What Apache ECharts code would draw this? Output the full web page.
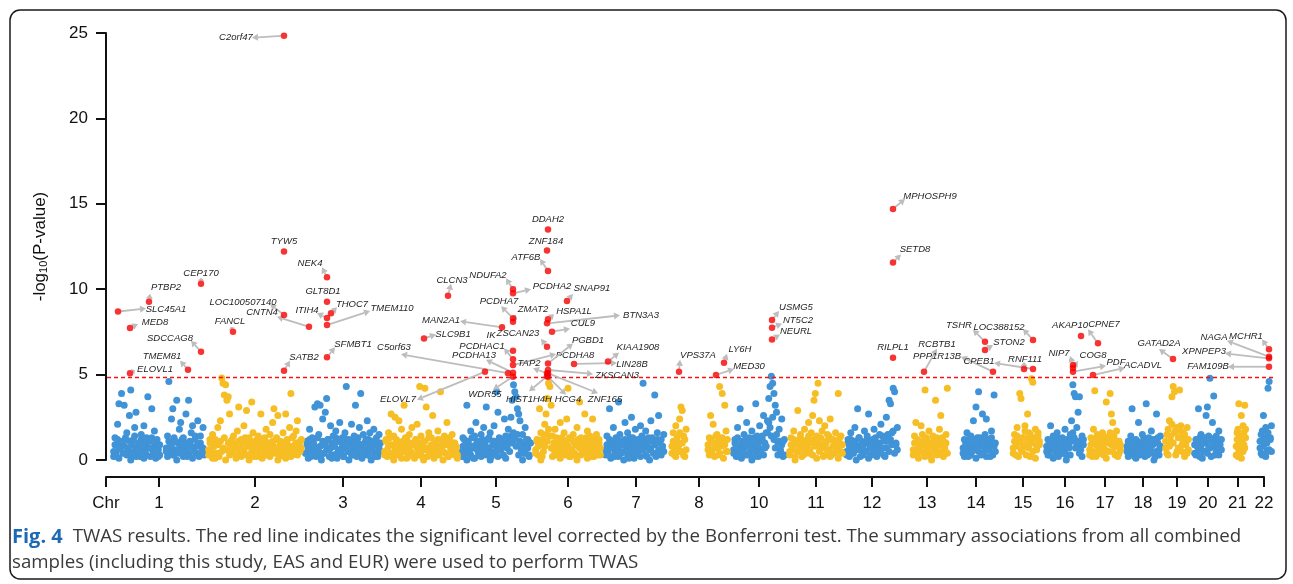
<!DOCTYPE html>
<html>
<head>
<meta charset="utf-8">
<title>TWAS results</title>
<script src="https://cdn.jsdelivr.net/npm/echarts@6/dist/echarts.min.js"></script>
<style>html,body{margin:0;padding:0;background:#fff}</style>
</head>
<body>
<div id="main" style="width:1293px;height:584px"></div>
<script>
// chromosomes (no chr9 in the figure), spans on the cumulative genome axis
var chrLabels = ['1','2','3','4','5','6','7','8','10','11','12','13','14','15','16','17','18','19','20','21','22'];
var chrStart = [7, 102, 199, 278, 355, 429, 499, 564, 627, 683, 740, 800, 850, 900, 940, 983, 1019, 1059, 1088, 1123, 1150];
var chrEnd   = [99, 196, 275, 352, 425, 495, 561, 622, 679, 737, 792, 842, 890, 934, 978, 1015, 1055, 1083, 1116, 1140, 1166];

// non-significant genes, -log10(P), in order along each chromosome (null = no genes)
var bg1 = [0.5,1.3,0.2,2.1,3.3,0.8,3.9,1.1,3.2,0.4,1.6,0.7,2.6,4.1,0.3,1.2,1.9,2.8,0.6,1.0,0.2,1.5,0.9,2.0,0.4,1.3,3.7,0.7,1.1,3.0,0.3,1.7,0.6,1.2,0.2,0.9,null,null,null,null,0.5,1.4,4.6,0.8,2.4,3.0,0.3,1.1,3.5,0.6,1.8,2.2,0.4,1.3,0.9,2.7,0.2,3.5,1.0,1.6,2.0,0.5,1.2,0.8,2.3,0.3,1.4,0.7,1.9,0.4];
var bg2 = [0.6,1.2,0.3,1.5,0.8,0.1,1.0,1.9,0.4,2.3,4.8,4.5,3.8,4.4,3.5,3.7,2.7,1.1,0.5,1.4,0.9,0.2,1.7,3.1,0.7,1.2,0.4,2.0,1.0,2.9,0.3,1.3,0.8,3.4,1.6,0.5,1.1,0.2,1.4,0.9,2.7,0.6,1.2,0.3,1.8,1.0,0.4,1.5,0.7,2.2,3.0,0.5,1.3,2.6,0.2,1.1,0.8,1.6,0.4,2.7,1.2,0.6,1.9,3.9,0.3,1.4,0.9,1.7,2.3,0.5,1.1,0.7];
var bg3 = [0.4,1.1,0.7,1.8,0.2,1.3,0.9,3.1,0.5,3.3,1.5,3.2,0.3,2.4,1.0,2.8,3.6,1.2,0.6,2.0,0.1,1.4,0.8,1.7,0.4,1.1,2.2,0.6,1.3,0.2,1.6,4.3,0.9,1.2,0.5,2.1,0.3,1.4,3.2,0.7,1.0,1.9,3.9,0.4,1.5,0.8,1.2,2.3,0.3,1.6,0.6,1.1,1.8,0.2,1.3,0.9,1.5,0.5];
var bg4 = [0.3,1.2,0.6,1.6,0.9,2.7,0.2,1.4,2.5,0.7,1.1,2.3,0.4,1.8,0.8,3.2,1.3,0.1,1.0,1.5,0.5,1.9,0.9,0.3,1.2,2.1,0.6,4.3,1.4,0.2,1.1,4.2,3.1,0.7,1.6,0.4,1.3,2.6,0.8,1.0,0.3,1.7,0.6,4.0,1.2,0.5,1.4,0.9,2.2,0.2,1.1,0.7,1.5,0.4,1.0,0.6,0.3];
var bg5 = [0.5,1.3,0.2,0.9,3.2,1.1,0.4,1.7,0.8,0.1,1.4,2.2,0.6,1.0,0.3,1.5,0.9,1.9,0.4,3.1,1.2,0.7,1.6,0.2,1.1,2.0,0.5,4.0,2.8,1.3,0.6,1.0,0.3,2.4,1.4,0.8,1.8,1.2,2.5,3.5,4.4,4.0,3.7,3.0,2.7,2.3,0.9,1.5,0.4,1.9,0.7,1.2,0.3,1.0];
var bg6 = [0.4,1.2,0.8,3.0,1.6,0.2,1.0,2.1,2.7,3.6,4.5,4.3,3.2,1.4,0.6,1.8,0.3,1.1,0.7,2.2,1.3,0.5,1.6,0.9,2.4,4.2,0.2,1.2,0.6,1.5,1.0,0.3,1.9,0.8,3.4,1.3,0.5,1.1,2.7,0.4,1.7,0.9,1.4,0.2,2.4,1.0,0.6,1.5,0.3,1.2,0.7];
var bg7 = [0.6,1.4,0.3,3.0,1.0,0.7,1.9,0.2,1.2,0.8,3.4,1.5,0.4,1.1,0.9,2.2,0.5,1.6,0.1,1.3,2.5,0.7,1.0,1.8,0.3,1.2,0.6,2.0,1.4,4.5,0.9,1.7,0.2,1.1,0.6,2.3,1.3,0.4,3.8,1.0,1.6,2.6,0.5,1.2,0.8,1.5,null,null];
var bg8 = [null,0.8,1.6,0.3,2.0,1.1,0.5,2.4,3.1,2.9,1.4,0.2,1.8,null,null,null,null,null,null,null,null,null,null,null,null,null,null,null,null,0.6,1.3,2.6,0.4,2.1,1.0,0.7,1.5,0.3,4.3,1.2,3.9,0.9,3.2,1.7,0.5];
var bg10 = [0.4,1.2,0.7,1.9,0.2,3.0,1.0,0.5,1.5,0.9,2.2,0.3,1.3,0.6,1.7,1.1,0.2,3.3,1.4,0.8,2.0,0.4,1.2,2.6,0.7,1.6,2.3,3.6,4.3,4.9,4.5,3.9,3.2,2.8,1.0,1.8,0.5,2.4,1.1,0.3];
var bg11 = [0.5,1.3,0.8,1.7,0.2,1.1,2.9,0.6,1.5,1.0,0.3,1.8,0.7,1.2,2.2,0.4,1.6,2.6,3.5,3.9,1.4,4.5,2.3,0.9,1.7,0.2,2.0,1.1,0.6,1.4,2.4,0.3,1.2,0.8,1.6,0.5,3.9,1.0,1.4,0.4];
var bg12 = [0.3,1.2,0.7,1.6,0.4,1.0,1.9,0.6,3.0,1.3,0.2,1.1,0.8,1.7,0.5,1.4,2.7,0.9,0.3,1.2,1.8,0.6,1.0,0.4,1.5,2.1,0.7,1.3,0.2,2.5,1.1,3.5,3.3,1.6,4.2,4.0,0.9,1.9];
var bg13 = [null,null,null,null,null,0.6,1.4,2.2,0.3,1.1,0.8,2.0,1.5,0.4,4.1,1.2,0.7,1.7,0.2,1.0,1.4,0.5,3.5,1.3,0.9,1.8,2.6,0.3,1.1,0.6,1.5,4.2];
var bg14 = [null,null,null,null,null,0.4,1.2,0.8,1.6,0.2,1.0,1.4,0.5,2.3,1.1,3.1,0.7,4.0,1.3,0.3,2.7,0.9,1.5,2.4,0.6,1.2,0.2,1.7,1.0,3.8,0.5];
var bg15 = [null,null,null,null,null,0.7,1.5,0.3,1.9,1.1,3.9,3.6,0.5,1.3,2.0,0.8,2.7,1.6,0.2,4.75,4.55,1.2,1.8,0.6,1.4,0.9];
var bg16 = [0.5,1.2,0.3,2.0,0.8,1.4,0.2,1.0,1.6,0.6,1.1,0.4,1.3,0.9,1.8,0.3,1.2,0.7,1.5,2.3,4.4,3.9,3.7,1.0,2.8,3.7,0.6,1.4,0.9];
var bg17 = [0.6,1.3,0.2,1.8,4.05,0.9,1.5,0.4,1.1,0.7,1.6,0.3,1.0,3.4,1.2,0.5,3.9,2.7,2.2,1.4,0.8,1.7,0.2,1.1,0.6];
var bg18 = [null,0.5,1.1,0.3,1.4,3.0,0.8,0.2,1.2,0.6,2.2,1.0,0.4,1.5,0.7,1.1,3.3,0.3,1.3,0.9,1.7,0.5,1.2,0.2,2.7,1.0,0.6,1.4];
var bg19 = [0.7,1.5,0.3,2.3,1.1,3.7,4.3,4.0,1.8,0.5,1.3,4.1,2.0,0.9,1.6,0.2,1.2,1.9,0.6];
var bg20 = [0.4,1.2,0.8,3.0,0.2,1.5,1.0,0.5,1.3,2.6,3.1,0.7,4.78,1.1,2.2,3.75,0.3,1.4,0.9,1.7,0.6,1.2];
var bg21 = [null,null,null,null,null,null,null,null,0.8,1.6,0.2,3.3,1.1,0.5,2.6,1.4,2.0,0.9,3.2,1.8];
var bg22 = [null,null,null,0.7,1.5,0.3,2.6,1.1,1.9,0.5,4.2,4.6,1.3,2.0];
var bgValues = [bg1,bg2,bg3,bg4,bg5,bg6,bg7,bg8,bg10,bg11,bg12,bg13,bg14,bg15,bg16,bg17,bg18,bg19,bg20,bg21,bg22];

// the dense mass of weakly associated genes near the baseline
var low1 = [0.2,0.9,0.5,1.2,0.1,0.7,1.0,0.4,0.8,1.3,0.3,0.6,1.1,0.0,0.9,0.5,1.4,0.2,0.7,1.0,0.4,1.2,0.6,0.1,0.9,0.3,1.1,0.7,0.2,1.3,0.5,0.8,0.1,1.0,0.6,0.3,null,null,null,null,0.7,0.2,1.1,0.5,0.9,0.3,1.3,0.6,0.0,1.0,0.4,0.8,1.2,0.2,0.7,1.0,0.5,0.3,1.1,0.8,0.1,0.6,1.4,0.4,0.9,0.2,1.0,0.5,0.7,0.3];
var low2 = [0.3,1.0,0.6,0.1,0.8,1.2,0.4,0.9,0.2,1.1,0.5,0.7,1.3,0.0,0.6,1.0,0.3,0.8,1.2,0.4,0.9,0.1,0.7,1.1,0.5,0.2,1.0,0.6,1.3,0.3,0.8,0.0,1.1,0.5,0.9,0.2,0.7,1.2,0.4,1.0,0.6,0.1,0.9,1.3,0.3,0.7,1.0,0.2,0.5,1.1,0.8,0.4,1.2,0.0,0.6,0.9,0.3,1.0,0.7,0.1,1.1,0.5,0.8,0.2,1.3,0.4,0.6,1.0,0.3,0.9,0.5,1.2];
var low3 = [0.4,0.9,0.1,1.2,0.6,0.3,1.0,0.7,0.2,1.3,0.5,0.8,0.0,1.1,0.4,0.9,0.6,1.2,0.2,0.7,1.0,0.3,0.8,1.3,0.1,0.6,1.1,0.4,0.9,0.2,0.7,1.2,0.5,0.0,1.0,0.3,0.8,1.1,0.6,0.2,1.3,0.4,0.9,0.1,0.7,1.0,0.5,0.3,1.2,0.8,0.0,0.6,1.1,0.4,0.9,0.2,0.7,1.0];
var low4 = [0.5,1.1,0.2,0.8,1.3,0.4,0.9,0.0,0.6,1.2,0.3,1.0,0.7,0.1,1.1,0.5,0.8,1.3,0.2,0.6,1.0,0.4,0.9,0.1,1.2,0.7,0.3,1.0,0.5,0.8,0.0,1.1,0.6,0.2,1.3,0.4,0.9,0.7,0.1,1.0,0.5,1.2,0.3,0.8,0.6,0.0,1.1,0.4,0.9,0.2,1.3,0.7,0.5,1.0,0.3,0.8,0.1];
var low5 = [0.2,0.8,1.2,0.5,0.0,1.0,0.6,0.3,1.3,0.7,0.1,0.9,1.1,0.4,0.8,0.2,1.2,0.6,1.0,0.3,0.7,1.3,0.0,0.5,0.9,1.1,0.4,0.8,0.2,1.0,0.6,1.2,0.3,0.9,0.1,0.7,1.1,0.5,1.4,1.0,1.6,1.2,0.8,1.5,0.3,1.1,0.6,0.0,0.9,0.4,1.2,0.7,0.2,1.0];
var low6 = [0.6,1.1,0.3,0.9,0.0,1.2,0.5,0.8,1.5,1.1,1.8,1.4,0.7,0.2,1.0,0.6,1.3,0.4,0.9,0.1,0.7,1.2,0.3,1.0,0.5,0.8,1.3,0.2,0.6,1.1,0.4,0.9,0.0,1.2,0.7,0.3,1.0,0.5,0.8,1.3,0.1,0.6,1.1,0.4,0.9,0.2,1.2,0.7,0.5,1.0,0.3];
var low7 = [0.3,0.9,0.6,1.2,0.1,0.8,1.0,0.4,1.3,0.7,0.2,1.1,0.5,0.9,0.0,1.2,0.6,0.3,1.0,0.8,0.4,1.3,0.1,0.7,1.1,0.5,0.9,0.2,1.2,0.6,1.0,0.3,0.8,1.3,0.0,0.7,1.1,0.4,0.9,0.2,1.2,0.6,1.0,0.3,0.8,0.5,null,null];
var low8 = [null,0.4,1.1,0.7,0.2,1.3,0.8,1.6,0.5,1.0,0.3,1.2,0.6,null,null,null,null,null,null,null,null,null,null,null,null,null,null,null,null,0.9,0.3,1.2,0.6,1.0,0.2,1.4,0.7,1.1,0.4,0.8,1.3,0.1,0.9,0.5,1.2];
var low10 = [0.6,1.0,0.2,1.3,0.5,0.8,0.1,1.1,0.7,0.3,1.2,0.9,0.4,1.0,0.0,0.7,1.3,0.5,0.9,0.2,1.1,0.6,1.4,0.3,1.0,0.8,1.6,2.2,1.9,1.4,2.5,1.2,0.7,1.5,0.3,1.1,0.6,0.9,0.2,1.2];
var low11 = [0.3,0.9,0.6,1.2,0.0,1.0,0.5,0.8,1.3,0.2,0.7,1.1,0.4,0.9,1.4,0.6,1.0,0.3,1.2,0.8,0.1,1.1,0.5,1.3,0.7,0.9,0.3,1.0,1.5,0.6,0.2,1.2,0.8,0.4,1.1,0.7,0.1,1.3,0.5,0.9];
var low12 = [0.5,1.0,0.2,1.2,0.7,0.4,1.1,0.0,0.8,1.3,0.6,0.9,0.3,1.0,0.5,1.2,0.1,0.7,1.1,0.4,0.9,1.3,0.2,0.8,1.0,0.6,1.4,0.3,1.1,0.7,1.5,0.5,1.2,0.9,1.7,0.4,1.0,0.6];
var low13 = [null,null,null,null,null,0.3,1.0,0.6,1.2,0.1,0.8,1.1,0.5,0.9,0.2,1.3,0.7,0.4,1.0,0.0,0.8,1.2,0.6,0.3,1.1,0.9,0.5,1.3,0.2,0.7,1.0,0.4];
var low14 = [null,null,null,null,null,0.7,0.2,1.0,0.5,1.2,0.8,0.3,1.1,0.6,0.9,0.1,1.3,0.5,0.8,1.0,0.4,1.2,0.7,0.2,1.1,0.6,0.9,1.3,0.3,0.8,1.0];
var low15 = [null,null,null,null,null,0.4,1.1,0.8,1.4,0.2,1.0,0.6,1.3,0.9,1.7,0.3,1.2,0.7,1.5,1.0,0.5,1.3,0.1,0.8,1.6,1.1];
var low16 = [0.8,0.3,1.0,0.6,1.2,0.1,0.9,0.5,1.3,0.2,0.7,1.1,0.4,1.0,0.6,0.0,1.2,0.8,0.3,1.1,1.6,1.3,0.7,1.9,1.1,0.4,0.9,0.2,1.2];
var low17 = [0.3,0.9,1.2,0.5,1.0,0.2,1.3,0.7,0.4,1.1,0.8,1.4,0.6,0.1,1.0,1.3,1.6,0.9,0.5,1.2,0.3,0.8,1.1,0.4,0.9];
var low18 = [null,0.8,0.2,1.0,0.6,1.2,0.4,0.9,0.1,1.1,0.7,0.3,1.0,0.5,1.3,0.2,0.8,1.1,0.6,0.4,1.2,0.9,0.0,1.0,0.5,1.3,0.3,0.8];
var low19 = [1.1,0.4,1.8,0.8,1.4,2.1,1.0,1.6,0.3,1.9,0.7,1.3,1.7,0.5,1.1,1.5,0.9,0.4,1.2];
var low20 = [0.9,0.3,1.1,0.6,1.3,0.8,0.1,1.2,0.5,1.0,0.4,1.4,0.7,0.2,1.1,0.8,1.3,0.5,1.0,0.3,0.9,0.6];
var low21 = [null,null,null,null,null,null,null,null,0.3,1.2,1.8,0.6,1.4,0.9,0.1,1.1,0.5,1.6,0.7,1.3];
var low22 = [null,null,null,1.1,0.4,1.7,0.8,1.3,0.2,1.0,1.6,0.6,1.2,0.5];
var lowValues = [low1,low2,low3,low4,low5,low6,low7,low8,low10,low11,low12,low13,low14,low15,low16,low17,low18,low19,low20,low21,low22];

// significant genes: name, genome position, -log10(P)
var geneNames = ['C2orf47','PTBP2','SLC45A1','MED8','CEP170','FANCL','SDCCAG8','TMEM81','ELOVL1','TYW5',
  'NEK4','LOC100507140','CNTN4','ITIH4','GLT8D1','THOC7','TMEM110','SATB2','SFMBT1','CLCN3',
  'SLC9B1','NDUFA2','PCDHA2','PCDHA7','ZMAT2','MAN2A1','IK','ZSCAN23','PCDHAC1','PCDHA8',
  'PCDHA13','C5orf63','WDR55','ELOVL7','PGBD1','TAP2','ZKSCAN3','ZNF165','HCG4','HIST1H4H',
  'LIN28B','KIAA1908','VPS37A','LY6H','MED30','USMG5','NT5C2','NEURL','MPHOSPH9','SETD8',
  'RILPL1','RCBTB1','PPP1R13B','CPEB1','RNF111','TSHR','LOC388152','STON2','NIP7','AKAP10',
  'CPNE7','COG8','PDF','ACADVL','GATAD2A','MCHR1','NAGA','XPNPEP3','FAM109B','DDAH2',
  'ZNF184','ATF6B','SNAP91','HSPA1L','BTN3A3','CUL9'];
var genePos = [178,43,12,24,95,127,95,82,24,178,
  221,178,203,221,221,225,221,178,221,342,
  318,407,407,407,407,396,407,441,407,407,
  407,402,407,379,442,441,442,442,442,441,
  468,502,573,618,610,666,666,666,787,787,
  787,818,887,927,918,879,927,879,967,975,
  992,967,967,987,1067,1163,1163,1163,1163,442,
  441,442,461,442,441,446];
var geneLogP = [24.84,9.27,8.69,7.73,10.32,7.51,6.34,5.29,5.08,12.2,
  10.7,8.49,7.8,8.31,9.27,8.59,7.9,5.23,6.01,9.62,
  7.12,9.99,9.76,8.3,8.1,7.77,6.4,6.63,5.9,5.56,
  5.11,5.08,4.88,5.17,5.65,5.08,5.27,5.08,4.88,4.9,
  5.62,5.76,5.17,5.7,4.98,8.2,7.75,7.06,14.7,11.57,
  5.99,5.17,5.17,5.33,5.33,6.93,7.03,6.44,5.56,7.26,
  6.83,5.38,5.17,4.98,5.91,6.48,6.05,5.95,5.46,13.5,
  12.26,11.07,9.31,8.24,8.0,7.51];
var threshold = 4.83;

// label placement in px from each point: text centre dx, dy, arrow tip dx, dy
var labelLayout = [[-48,2,-32,2],[17,-14,1,-8],[48,-2,28,-3],[25,-6,8,-4],[0,-10,0,-6],[-3,-10,-2,-5],[-31,-13,-10,-11],[-26,-13,-8,-9],[25,-4,5,-3],[0,-10,null,null],
  [-17,-14,-5,-10],[-41,-13,-14,-11],[-47,-14,-32,-10],[-20,-8,-10,-5],[-4,-10,null,null],[21,-9,6,-6],[65,-17,43,-14],[20,-13,6,-10],[26,-13,8,-10],[4,-15,3,-12],
  [29,-4,12,-4],[-25,-14,-7,-11],[39,-7,18,-4],[-14,-17,-12,-12],[20,-12,3,-7],[-61,-7,-42,-6],[-22,-15,null,null],[-29,-13,-6,-8],[-31,-13,-9,-11],[62,-10,43,-11],
  [-39,-17,-27,-13],[-114,-26,-107,-19],[-28,18,-20,13],[-87,28,-68,28],[40,-23,25,-20],[-18,-10,-14,-5],[69,5,45,4],[57,26,50,20],[20,23,18,18],[-18,23,-18,15],
  [58,0,43,-1],[30,-14,11,-9],[19,-16,1,-12],[16,-13,3,-9],[33,-9,18,-6],[24,-13,7,-9],[26,-7,10,-4],[24,-8,8,-5],[37,-13,12,-10],[22,-13,8,-8],
  [0,-10,null,null],[13,-27,13,-23],[-56,-15,-32,-15],[-54,-8,-39,-6],[1,-10,0,-7],[-26,-16,-12,-12],[-34,-13,-10,-11],[24,-8,8,-5],[-14,-12,-3,-9],[-11,-11,null,null],
  [6,-19,-10,-14],[20,-13,5,-7],[43,-9,33,-6],[50,-10,32,-7],[-14,-16,-14,-10],[-23,-13,-7,-10],[-55,-19,-42,-16],[-65,-7,-44,-5],[-61,0,-41,0],[0,-10,null,null],
  [-1,-9,null,null],[-22,-14,-8,-12],[25,-13,6,-7],[26,-8,6,-5],[94,-8,73,-8],[31,-8,18,-3]];

var captionBold = 'Fig. 4';
var captionLine1 = 'TWAS results. The red line indicates the significant level corrected by the Bonferroni test. The summary associations from all combined';
var captionLine2 = 'samples (including this study, EAS and EUR) were used to perform TWAS';

var blue = '#3f93d6', yellow = '#f6be24';
var axisFont = '"Liberation Sans", Arial, sans-serif';
var captionFont = '"Open Sans", sans-serif';

var chrCenters = chrStart.map(function (s, i) { return (s + chrEnd[i]) / 2; });
var tickValues = [0].concat(chrCenters);
var tickLabels = ['Chr'].concat(chrLabels);

var blueData = [], yellowData = [];
function addGenes(list) {
    list.forEach(function (vals, c) {
        var n = vals.length;
        vals.forEach(function (v, i) {
            if (v === null) return;
            var x = chrStart[c] + (i + 0.5) / n * (chrEnd[c] - chrStart[c]);
            (c % 2 === 0 ? blueData : yellowData).push([x, v]);
        });
    });
}
addGenes(lowValues);
addGenes(bgValues);
var sigData = genePos.map(function (x, i) { return [x, geneLogP[i], i]; });

function renderLabel(params, api) {
    var i = api.value(2);
    var p = api.coord([api.value(0), api.value(1)]);
    var L = labelLayout[i];
    var kids = [];
    var grey = '#bdbdbd';
    if (L[2] !== null) {
        var tx = p[0] + L[2], ty = p[1] + L[3];
        var dx = L[2], dy = L[3];
        var len = Math.sqrt(dx * dx + dy * dy);
        var ux = dx / len, uy = dy / len;
        var head = Math.min(6, Math.max(len - 3, 2));
        var bx = tx - ux * head, by = ty - uy * head;
        if (len - head > 3) {
            kids.push({ type: 'line', shape: { x1: p[0] + ux * 3, y1: p[1] + uy * 3, x2: bx, y2: by },
                style: { stroke: grey, lineWidth: 1.8 } });
        }
        kids.push({ type: 'polygon', shape: { points: [[tx, ty], [bx - uy * 3.5, by + ux * 3.5], [bx + uy * 3.5, by - ux * 3.5]] },
            style: { fill: grey } });
    }
    kids.push({ type: 'text', x: p[0] + L[0], y: p[1] + L[1],
        style: { text: geneNames[i], font: 'italic 9.5px ' + axisFont, fill: '#1e1e1e', align: 'center', verticalAlign: 'middle' } });
    return { type: 'group', children: kids };
}

var myChart = echarts.init(document.getElementById('main'));

var option = {
    animation: false,
    backgroundColor: '#fff',
    grid: [
        { left: 106, top: 33, width: 1170, height: 427 },
        { left: 106, top: 476, width: 1158, height: 1 }
    ],
    xAxis: [
        { gridIndex: 0, type: 'value', min: 0, max: 1170, show: false },
        {
            gridIndex: 1, type: 'value', min: 0, max: 1158,
            splitLine: { show: false },
            axisLine: { lineStyle: { color: '#111', width: 2 } },
            axisTick: { customValues: tickValues, length: 10, lineStyle: { color: '#111', width: 2 } },
            axisLabel: {
                customValues: tickValues, margin: 18, fontSize: 17, fontFamily: axisFont, color: '#111',
                formatter: function (v) { var k = tickValues.indexOf(v); return k < 0 ? '' : tickLabels[k]; }
            }
        }
    ],
    yAxis: [
        {
            gridIndex: 0, type: 'value', min: 0, max: 25, interval: 5,
            splitLine: { show: false },
            axisLine: { show: true, lineStyle: { color: '#111', width: 2 } },
            axisTick: { show: true, length: 10, lineStyle: { color: '#111', width: 2 } },
            axisLabel: { margin: 18, fontSize: 17, fontFamily: axisFont, color: '#111' },
            name: '-log{s|10}(P-value)',
            nameLocation: 'middle', nameRotate: 90, nameGap: 57,
            nameTextStyle: { fontSize: 17, fontFamily: axisFont, color: '#111',
                rich: { s: { fontSize: 11, fontFamily: axisFont, color: '#111', verticalAlign: 'bottom', padding: [6, 0, 0, 0] } } }
        },
        { gridIndex: 1, type: 'value', min: 0, max: 1, show: false }
    ],
    series: [
        { name: 'odd', type: 'scatter', symbolSize: 7, data: blueData, itemStyle: { color: blue, opacity: 1 }, z: 2, silent: true },
        { name: 'even', type: 'scatter', symbolSize: 7, data: yellowData, itemStyle: { color: yellow, opacity: 1 }, z: 2, silent: true },
        {
            name: 'threshold', type: 'line', symbol: 'none', silent: true, z: 3, color: '#ff1010',
            data: [[1, threshold], [1169, threshold]],
            itemStyle: { color: '#ff1010' },
            lineStyle: { color: '#ff1010', type: [4, 3], width: 1.3, opacity: 1 }
        },
        {
            name: 'labels', type: 'custom', renderItem: renderLabel, data: sigData, z: 4, silent: true, clip: false
        },
        {
            name: 'significant', type: 'scatter', symbolSize: 6.5, data: sigData, itemStyle: { color: '#f50000' }, z: 5, silent: true
        }
    ],
    graphic: [
        { type: 'rect', silent: true, shape: { x: 10, y: 10, width: 1276, height: 569, r: 10 },
          style: { fill: 'none', stroke: '#1a1a1a', lineWidth: 1.5 } },
        { type: 'text', silent: true, x: 12, y: 537,
          style: { text: '{b|' + captionBold + '}' + captionLine1, fontSize: 18.7, fontFamily: captionFont, fill: '#3a3a3a', verticalAlign: 'middle',
            rich: { b: { fontWeight: 'bold', fill: '#1d6ab3', fontSize: 20, fontFamily: captionFont, padding: [0, 10, 0, 0] } } } },
        { type: 'text', silent: true, x: 12, y: 563,
          style: { text: captionLine2, fontSize: 18.7, fontFamily: captionFont, fill: '#3a3a3a', verticalAlign: 'middle' } }
    ]
};

myChart.setOption(option);
</script>
</body>
</html>
